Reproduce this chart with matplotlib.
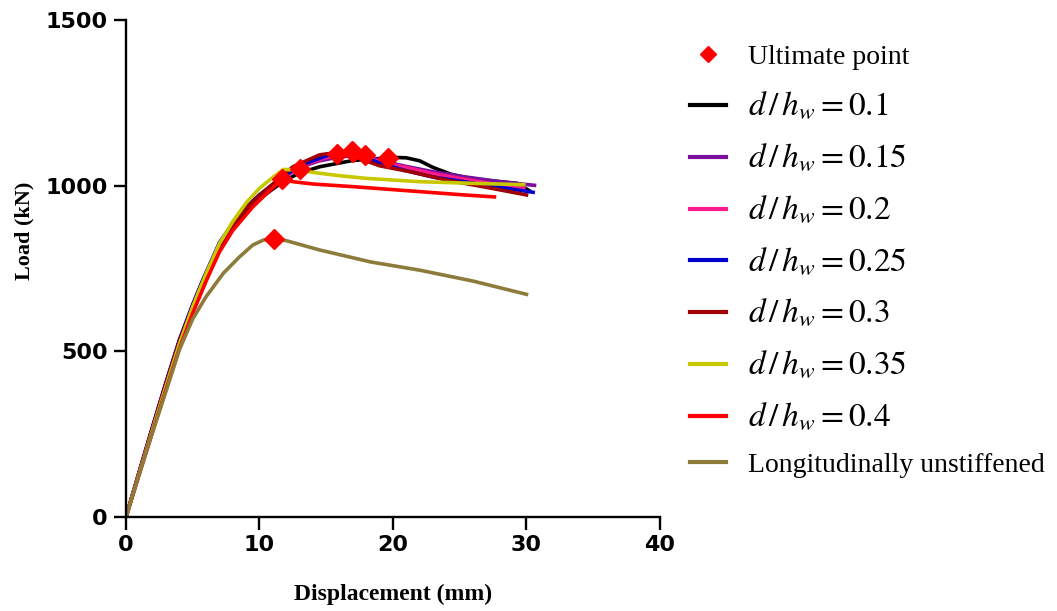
import numpy as np
import matplotlib.pyplot as plt
from matplotlib.lines import Line2D

plt.rcParams['mathtext.fontset'] = 'stix'

# Load-displacement curves (displacement in mm, load in kN)
x_01 = [0, 1, 2, 3, 4, 5, 5.8, 7, 8, 9, 10, 11, 12, 13, 14.5, 17, 19, 20.3, 21, 22, 23, 24.3, 25.5, 26.8, 29.3, 30.2]
y_01 = [0, 135, 270, 400, 525, 630, 710, 815, 875, 925, 960, 990, 1018, 1038, 1057, 1076, 1082, 1085, 1084, 1075, 1055, 1035, 1024, 1017, 1007, 985]

x_015 = [0, 1, 2, 3, 4, 5, 5.8, 7, 8, 9, 10, 11, 12, 13, 14.5, 16, 17.9, 19, 21, 23, 25.3, 28, 30.6]
y_015 = [0, 137, 272, 405, 532, 640, 718, 825, 885, 935, 972, 1003, 1030, 1055, 1075, 1087, 1093, 1076, 1058, 1042, 1027, 1012, 1001]

x_02 = [0, 1, 2, 3, 4, 5, 5.8, 7, 8, 9, 10, 11, 12, 13, 15, 17, 19, 21, 23, 25.3, 27.5, 29.8]
y_02 = [0, 136, 271, 403, 530, 637, 716, 824, 884, 933, 970, 1002, 1030, 1058, 1085, 1103, 1072, 1055, 1036, 1020, 1005, 992]

x_025 = [0, 1, 2, 3, 4, 5, 5.8, 7, 8, 9, 10, 11, 12, 13, 15, 16.9, 18, 19, 21, 23, 25.3, 28, 30.5]
y_025 = [0, 138, 274, 407, 535, 642, 720, 828, 887, 935, 972, 1004, 1033, 1060, 1090, 1106, 1085, 1068, 1045, 1026, 1012, 995, 980]

x_03 = [0, 1, 2, 3, 4, 5, 5.8, 7, 8, 9, 10, 11, 12.5, 14.5, 15.8, 17.5, 19, 21.3, 24, 27, 30]
y_03 = [0, 136, 271, 403, 530, 636, 715, 822, 882, 932, 970, 1005, 1057, 1093, 1100, 1082, 1060, 1042, 1017, 995, 972]

x_035 = [0, 1, 2, 3, 4, 5, 6, 7, 8, 9, 10, 11, 11.8, 13, 14, 16, 18, 22, 26, 29.8]
y_035 = [0, 133, 265, 395, 522, 635, 735, 825, 892, 948, 992, 1025, 1049, 1047, 1040, 1030, 1022, 1012, 1007, 1003]

x_04 = [0, 1, 2, 3, 4, 5, 6, 7, 8, 9.5, 10.5, 11.7, 12.5, 14, 17, 20, 22, 25, 27.6]
y_04 = [0, 130, 258, 385, 508, 615, 712, 800, 865, 936, 975, 1019, 1012, 1005, 997, 988, 982, 973, 966]

x_un = [0, 1, 2, 3, 4, 5, 6, 7.3, 8.5, 9.5, 10.3, 11.1, 12, 14.5, 18.3, 22, 26, 30]
y_un = [0, 130, 258, 380, 505, 598, 665, 736, 785, 821, 836, 839, 834, 806, 770, 745, 712, 672]

# Ultimate points
ult_x = [19.6, 17.9, 17.0, 16.9, 15.8, 13.0, 11.7, 11.1]
ult_y = [1084, 1093, 1103, 1106, 1096, 1049, 1019, 839]

series = [
    (x_01, y_01, '#000000', r'$d\,/\,h_w=0.1$'),
    (x_015, y_015, '#7a0f9e', r'$d\,/\,h_w=0.15$'),
    (x_02, y_02, '#ff1a8c', r'$d\,/\,h_w=0.2$'),
    (x_025, y_025, '#0000cc', r'$d\,/\,h_w=0.25$'),
    (x_03, y_03, '#a00000', r'$d\,/\,h_w=0.3$'),
    (x_035, y_035, '#c8c800', r'$d\,/\,h_w=0.35$'),
    (x_04, y_04, '#ff0000', r'$d\,/\,h_w=0.4$'),
    (x_un, y_un, '#8c7b3a', 'Longitudinally unstiffened'),
]

fig = plt.figure(figsize=(10.57, 6.11), dpi=100)
ax = fig.add_axes([0.1192, 0.1538, 0.5052, 0.8135])

handles = [Line2D([], [], ls='none', marker='D', color='#ff0000', markersize=8)]
labels = ['Ultimate point']
for xs, ys, c, lab in series:
    ax.plot(xs, ys, color=c, lw=2.6)
    handles.append(Line2D([], [], color=c, lw=3))
    labels.append(lab)

ax.plot(ult_x, ult_y, 'D', color='#ff0000', markersize=10, ls='none', zorder=5)

ax.set_xlim(0, 40)
ax.set_ylim(0, 1500)
ax.set_xticks([0, 10, 20, 30, 40])
ax.set_yticks([0, 500, 1000, 1500])
for s in ['top', 'right']:
    ax.spines[s].set_visible(False)
for s in ['left', 'bottom']:
    ax.spines[s].set_linewidth(1.7)
ax.tick_params(axis='both', direction='out', length=9, width=1.7, labelsize=16, pad=4)
for t in ax.get_xticklabels() + ax.get_yticklabels():
    t.set_fontweight('bold')
ax.set_xlabel('Displacement (mm)', family='Liberation Serif', fontweight='bold', fontsize=17)
ax.set_ylabel('Load (kN)', family='Liberation Serif', fontweight='bold', fontsize=16)
ax.xaxis.set_label_coords(0.5, -0.135)
ax.yaxis.set_label_coords(-0.172, 0.575)

leg = fig.legend(handles, labels, loc='upper left', bbox_to_anchor=(0.629, 0.968),
                 frameon=False, prop={'family': 'Liberation Serif', 'size': 20},
                 handlelength=1.3, handletextpad=0.8, labelspacing=0.72)
for t in leg.get_texts()[1:-1]:
    t.set_fontsize(24)

plt.savefig('out.png', dpi=100)
